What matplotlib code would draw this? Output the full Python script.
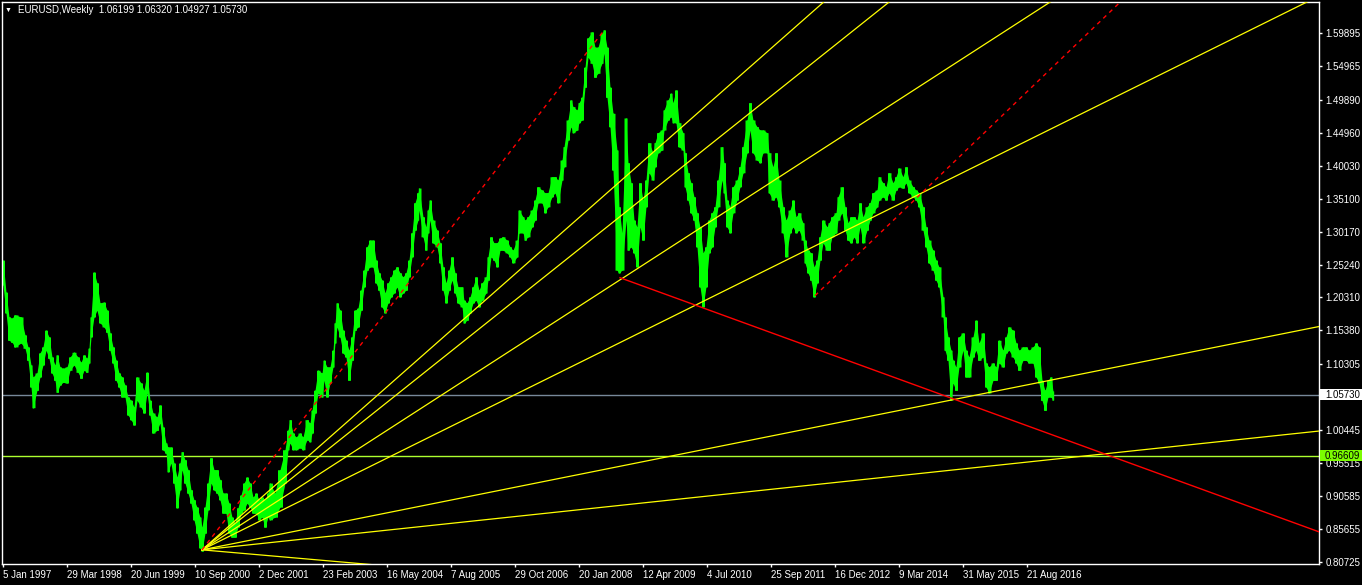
import matplotlib
matplotlib.use('Agg')
import matplotlib.pyplot as plt
from matplotlib.patches import Rectangle
from matplotlib.transforms import blended_transform_factory

plt.rcParams['font.family'] = ['Liberation Sans', 'DejaVu Sans']

# EURUSD weekly, x = weeks counted from 5 Jan 1997
weeks = [0, 3, 6, 9, 12, 18, 22, 25, 28, 30, 34, 37, 40, 43, 46, 49, 52, 54, 57, 60,
         64, 67, 71, 75, 78, 81, 84, 86, 88, 91, 94, 97, 101, 104, 107, 110, 113, 116, 119, 122,
         125, 128, 131, 134, 138, 141, 144, 147, 150, 154, 157, 160, 163, 165, 168, 171, 174, 177, 179, 182,
         185, 188, 191, 194, 197, 199, 202, 205, 208, 211, 214, 217, 220, 223, 226, 229, 232, 235, 238, 241,
         244, 247, 250, 253, 256, 259, 262, 265, 267, 272, 277, 282, 285, 287, 290, 293, 297, 300, 304, 307,
         309, 312, 315, 319, 321, 324, 327, 330, 332, 334, 337, 340, 343, 346, 349, 352, 355, 358, 361, 364,
         367, 370, 373, 376, 379, 382, 385, 388, 391, 394, 397, 400, 403, 406, 409, 412, 415, 416, 420, 423,
         425, 427, 430, 434, 437, 440, 443, 446, 449, 452, 455, 459, 461, 464, 467, 470, 473, 476, 479, 483,
         485, 488, 491, 494, 497, 500, 504, 507, 510, 514, 516, 520, 522, 525, 529, 532, 535, 539, 542, 545,
         549, 552, 555, 559, 561, 565, 568, 570, 574, 576, 579, 582, 585, 589, 592, 595, 599, 601, 604, 607,
         610, 614, 616, 619, 623, 625, 628, 631, 634, 637, 640, 643, 646, 650, 652, 655, 659, 661, 665, 668,
         670, 673, 676, 680, 682, 685, 688, 691, 694, 697, 700, 703, 706, 709, 712, 715, 719, 721, 724, 727,
         730, 734, 737, 740, 744, 747, 750, 754, 757, 760, 764, 766, 770, 773, 776, 780, 783, 787, 790, 793,
         796, 800, 802, 805, 808, 811, 814, 817, 820, 824, 826, 829, 833, 835, 839, 842, 845, 848, 851, 854,
         857, 860, 864, 867, 870, 874, 876, 880, 883, 886, 890, 893, 896, 900, 903, 906, 910, 913, 916, 920,
         923, 926, 930, 933, 936, 940, 942, 945, 948, 950, 953, 956, 960, 963, 966, 970, 973, 976, 980, 983,
         986, 990, 993, 996, 1000, 1003, 1006, 1010, 1013, 1016, 1020, 1023, 1026, 1030, 1033, 1036, 1039, 1042, 1045, 1048,
         1050]
highs = [1.259, 1.211, 1.174, 1.172, 1.177, 1.174, 1.147, 1.129, 1.102, 1.084, 1.090, 1.120, 1.129, 1.154, 1.144, 1.114, 1.102, 1.117, 1.099, 1.097,
         1.099, 1.114, 1.121, 1.114, 1.106, 1.117, 1.112, 1.127, 1.174, 1.241, 1.225, 1.195, 1.196, 1.184, 1.150, 1.129, 1.109, 1.090, 1.084, 1.072,
         1.054, 1.049, 1.039, 1.084, 1.075, 1.064, 1.091, 1.049, 1.030, 1.024, 1.042, 1.009, 0.985, 0.979, 0.979, 0.955, 0.934, 0.955, 0.972, 0.960,
         0.945, 0.915, 0.900, 0.889, 0.874, 0.859, 0.889, 0.925, 0.963, 0.945, 0.945, 0.930, 0.910, 0.910, 0.895, 0.874, 0.865, 0.888, 0.907, 0.925,
         0.934, 0.925, 0.904, 0.910, 0.900, 0.904, 0.900, 0.910, 0.925, 0.910, 0.945, 0.975, 1.004, 1.020, 1.000, 0.994, 1.000, 0.994, 1.020, 1.015,
         1.034, 1.064, 1.094, 1.090, 1.109, 1.099, 1.099, 1.124, 1.165, 1.195, 1.184, 1.154, 1.139, 1.124, 1.144, 1.184, 1.187, 1.214, 1.244, 1.279,
         1.289, 1.289, 1.259, 1.240, 1.229, 1.210, 1.225, 1.234, 1.244, 1.249, 1.240, 1.234, 1.240, 1.259, 1.300, 1.345, 1.360, 1.367, 1.324, 1.309,
         1.334, 1.349, 1.319, 1.304, 1.285, 1.249, 1.225, 1.244, 1.264, 1.240, 1.219, 1.219, 1.199, 1.195, 1.204, 1.219, 1.234, 1.214, 1.225, 1.234,
         1.264, 1.294, 1.285, 1.285, 1.292, 1.294, 1.289, 1.279, 1.274, 1.289, 1.334, 1.324, 1.319, 1.324, 1.334, 1.349, 1.369, 1.364, 1.360, 1.360,
         1.384, 1.384, 1.379, 1.409, 1.429, 1.469, 1.499, 1.489, 1.484, 1.495, 1.503, 1.548, 1.592, 1.601, 1.578, 1.578, 1.599, 1.604, 1.578, 1.518,
         1.479, 1.424, 1.339, 1.300, 1.472, 1.405, 1.375, 1.319, 1.309, 1.375, 1.349, 1.379, 1.435, 1.420, 1.435, 1.450, 1.454, 1.484, 1.499, 1.509,
         1.495, 1.514, 1.465, 1.450, 1.420, 1.390, 1.375, 1.354, 1.330, 1.309, 1.270, 1.279, 1.319, 1.330, 1.339, 1.379, 1.429, 1.405, 1.349, 1.339,
         1.369, 1.379, 1.399, 1.429, 1.469, 1.495, 1.469, 1.459, 1.454, 1.454, 1.450, 1.420, 1.399, 1.420, 1.379, 1.339, 1.319, 1.334, 1.349, 1.324,
         1.330, 1.315, 1.289, 1.274, 1.270, 1.249, 1.259, 1.294, 1.319, 1.309, 1.315, 1.324, 1.330, 1.354, 1.369, 1.339, 1.315, 1.324, 1.324, 1.319,
         1.345, 1.324, 1.339, 1.345, 1.360, 1.364, 1.384, 1.375, 1.369, 1.390, 1.375, 1.384, 1.397, 1.384, 1.399, 1.379, 1.369, 1.364, 1.360, 1.339,
         1.309, 1.289, 1.274, 1.259, 1.249, 1.204, 1.174, 1.144, 1.124, 1.109, 1.099, 1.144, 1.150, 1.124, 1.114, 1.144, 1.169, 1.135, 1.150, 1.105,
         1.099, 1.105, 1.099, 1.139, 1.124, 1.144, 1.159, 1.154, 1.135, 1.124, 1.129, 1.129, 1.124, 1.129, 1.135, 1.129, 1.079, 1.064, 1.079, 1.084,
         1.063]
lows = [1.222, 1.180, 1.139, 1.136, 1.129, 1.135, 1.127, 1.109, 1.069, 1.038, 1.064, 1.084, 1.102, 1.124, 1.112, 1.090, 1.079, 1.061, 1.072, 1.076,
        1.075, 1.094, 1.102, 1.091, 1.082, 1.094, 1.091, 1.105, 1.144, 1.174, 1.184, 1.165, 1.159, 1.151, 1.124, 1.105, 1.079, 1.069, 1.054, 1.054,
        1.027, 1.020, 1.012, 1.049, 1.039, 1.030, 1.060, 1.027, 1.000, 1.004, 1.015, 0.975, 0.970, 0.942, 0.955, 0.925, 0.888, 0.915, 0.945, 0.925,
        0.910, 0.895, 0.870, 0.850, 0.828, 0.823, 0.850, 0.885, 0.925, 0.915, 0.910, 0.900, 0.880, 0.880, 0.850, 0.844, 0.844, 0.859, 0.880, 0.885,
        0.895, 0.889, 0.880, 0.880, 0.870, 0.874, 0.859, 0.874, 0.870, 0.874, 0.889, 0.925, 0.975, 0.985, 0.975, 0.975, 0.978, 0.975, 0.990, 0.987,
        1.000, 1.030, 1.060, 1.054, 1.079, 1.054, 1.075, 1.099, 1.135, 1.159, 1.144, 1.120, 1.114, 1.079, 1.109, 1.154, 1.159, 1.184, 1.219, 1.244,
        1.249, 1.249, 1.225, 1.214, 1.189, 1.180, 1.195, 1.204, 1.210, 1.219, 1.204, 1.210, 1.214, 1.234, 1.264, 1.304, 1.319, 1.334, 1.294, 1.274,
        1.300, 1.319, 1.285, 1.279, 1.255, 1.214, 1.195, 1.214, 1.229, 1.210, 1.195, 1.189, 1.165, 1.169, 1.180, 1.195, 1.199, 1.189, 1.199, 1.210,
        1.229, 1.264, 1.259, 1.249, 1.274, 1.274, 1.270, 1.264, 1.255, 1.264, 1.300, 1.300, 1.289, 1.294, 1.309, 1.319, 1.345, 1.345, 1.330, 1.339,
        1.354, 1.360, 1.345, 1.379, 1.399, 1.439, 1.459, 1.450, 1.454, 1.465, 1.469, 1.518, 1.563, 1.554, 1.533, 1.539, 1.554, 1.569, 1.503, 1.459,
        1.394, 1.244, 1.240, 1.244, 1.319, 1.274, 1.279, 1.270, 1.249, 1.309, 1.289, 1.339, 1.390, 1.379, 1.399, 1.420, 1.424, 1.454, 1.469, 1.474,
        1.465, 1.465, 1.429, 1.424, 1.369, 1.349, 1.330, 1.319, 1.279, 1.219, 1.189, 1.219, 1.270, 1.279, 1.309, 1.339, 1.379, 1.360, 1.309, 1.300,
        1.330, 1.349, 1.369, 1.390, 1.420, 1.454, 1.420, 1.409, 1.405, 1.420, 1.420, 1.360, 1.349, 1.354, 1.339, 1.300, 1.264, 1.300, 1.309, 1.300,
        1.304, 1.289, 1.255, 1.240, 1.229, 1.204, 1.225, 1.259, 1.285, 1.274, 1.274, 1.294, 1.300, 1.319, 1.330, 1.304, 1.289, 1.285, 1.294, 1.285,
        1.309, 1.285, 1.304, 1.319, 1.330, 1.339, 1.349, 1.354, 1.349, 1.360, 1.349, 1.364, 1.369, 1.367, 1.375, 1.360, 1.354, 1.349, 1.339, 1.304,
        1.279, 1.255, 1.244, 1.229, 1.219, 1.174, 1.124, 1.109, 1.049, 1.075, 1.064, 1.099, 1.124, 1.084, 1.084, 1.114, 1.124, 1.109, 1.114, 1.069,
        1.060, 1.079, 1.079, 1.105, 1.099, 1.120, 1.124, 1.114, 1.105, 1.094, 1.109, 1.109, 1.105, 1.105, 1.084, 1.075, 1.049, 1.034, 1.054, 1.054,
        1.049]

date_labels = ['5 Jan 1997', '29 Mar 1998', '20 Jun 1999', '10 Sep 2000', '2 Dec 2001', '23 Feb 2003',
               '16 May 2004', '7 Aug 2005', '29 Oct 2006', '20 Jan 2008', '12 Apr 2009', '4 Jul 2010',
               '25 Sep 2011', '16 Dec 2012', '9 Mar 2014', '31 May 2015', '21 Aug 2016']
weeks_per_label = 64
price_ticks = [1.59895, 1.54965, 1.49890, 1.44960, 1.40030, 1.35100, 1.30170, 1.25240, 1.20310,
               1.15380, 1.10305, 1.00445, 0.95515, 0.90585, 0.85655, 0.80725]

title = 'EURUSD,Weekly  1.06199 1.06320 1.04927 1.05730'
last_price = 1.05730
level_price = 0.96609

# drawn objects: (week, price) anchor points
fan_origin = (199, 0.825)
fan_targets = [(787, 1.6013), (787, 1.5274), (787, 1.3940), (787, 1.2618),
               (1316, 1.1596), (1316, 1.0030), (354, 0.8048)]
red_dash_seg = [(199, 0.825), (600, 1.6013)]
red_dash_ray = [(812, 1.2058), (960, 1.4191)]
red_ray = [(617, 1.2327), (1316, 0.8520)]

W, H = 1362, 585
fig = plt.figure(figsize=(W / 100, H / 100), dpi=100, facecolor='black')
ax = fig.add_axes([2 / W, 21 / H, 1317 / W, 562 / H], facecolor='black')
ax.set_xlim(-1, 1316)
ax.set_ylim(0.8038, 1.6458)


def ray(p0, p1, x_end=1500):
    k = (p1[1] - p0[1]) / (p1[0] - p0[0])
    return [p0[0], x_end], [p0[1], p0[1] + k * (x_end - p0[0])]


ax.axhline(last_price, color='#778899', lw=1, zorder=1)
ax.axhline(level_price, color='#ADFF2F', lw=1, zorder=1)

# bar mass: blocky steps on top of a continuous band so fast moves leave no gaps
ax.fill_between(weeks, lows, highs, color='#00ff00', lw=0, zorder=2)
ax.fill_between(weeks, lows, highs, step='mid', color='#00ff00', lw=0, zorder=2)
ax.vlines(weeks, lows, highs, color='#00ff00', lw=1.0, zorder=2)

for t in fan_targets:
    xs, ys = ray(fan_origin, t)
    ax.plot(xs, ys, color='#ffff00', lw=0.9, zorder=3)

dash = (0, (3, 3))
ax.plot([p[0] for p in red_dash_seg], [p[1] for p in red_dash_seg],
        color='#ff0000', lw=1, ls=dash, zorder=3)
xs, ys = ray(*red_dash_ray)
ax.plot(xs, ys, color='#ff0000', lw=1, ls=dash, zorder=3)
xs, ys = ray(*red_ray)
ax.plot(xs, ys, color='#ff0000', lw=1, zorder=3)

for s in ax.spines.values():
    s.set_color('white')
    s.set_linewidth(1)

ax.set_xticks([i * weeks_per_label for i in range(len(date_labels))], date_labels)
for lab in ax.get_xticklabels():
    lab.set_ha('left')
ax.tick_params(axis='x', colors='white', direction='out', length=2.5, width=1, pad=2, labelsize=7)
ax.yaxis.tick_right()
ax.set_yticks(price_ticks, ['%.5f' % p for p in price_ticks])
ax.tick_params(axis='y', colors='white', direction='out', length=2.5, width=1, pad=2, labelsize=7)

# price boxes on the right scale
tr = blended_transform_factory(fig.transFigure, ax.transData)
box_h = 0.016
for price, fc in [(last_price, 'white'), (level_price, '#7CFC00')]:
    ax.add_artist(Rectangle((1320 / W, price - box_h / 2), 42 / W, box_h, transform=tr,
                            facecolor=fc, edgecolor='none', clip_on=False, zorder=5))
    ax.text(1325 / W, price, '%.5f' % price, transform=tr, color='black', fontsize=7,
            va='center', ha='left', clip_on=False, zorder=6)

fig.text(5 / W, 1 - 10 / H, '\u25bc', color='white', fontsize=5, va='center', ha='left')
fig.text(18 / W, 1 - 10 / H, title, color='white', fontsize=7, va='center', ha='left')

fig.savefig('out.png', dpi=100, facecolor='black')
